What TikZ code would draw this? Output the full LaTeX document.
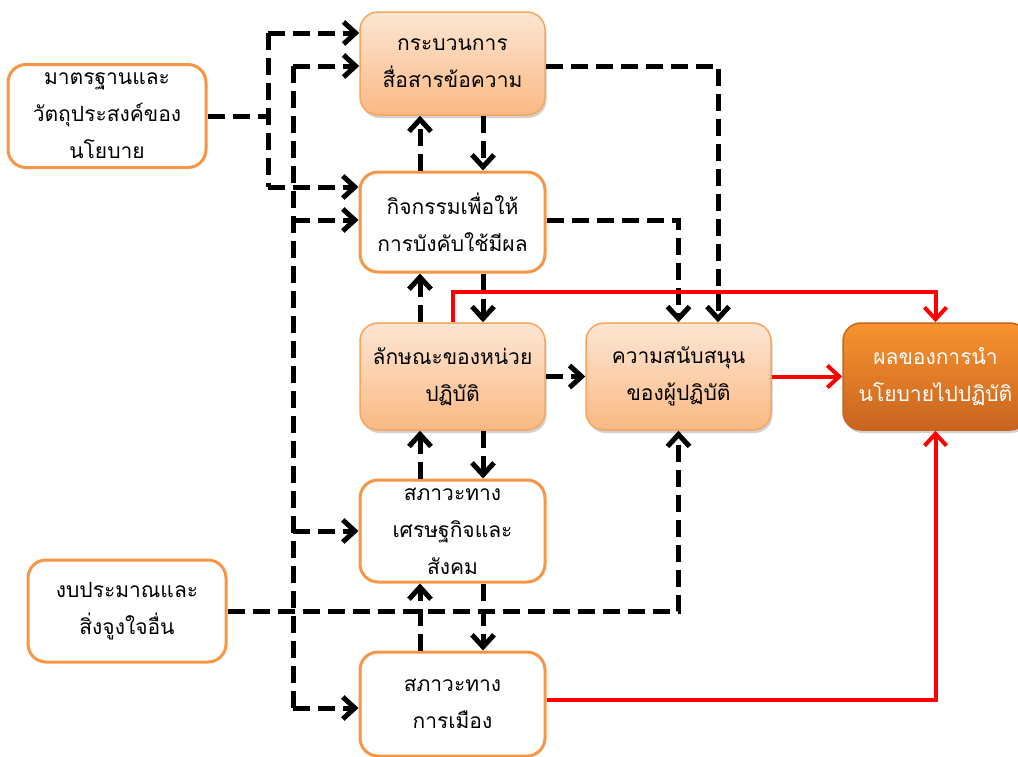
\documentclass[tikz,border=0pt]{standalone}
\usepackage{fontspec}
\newfontfamily\thaifont[Script=Thai]{Loma}
\usetikzlibrary{arrows.meta,shadows}
\definecolor{boxorange}{HTML}{F79646}
\definecolor{peachtop}{HTML}{FDE6D3}
\definecolor{peachbot}{HTML}{FAB983}
\definecolor{peachborder}{HTML}{F8A560}
\definecolor{darktop}{HTML}{F8932F}
\definecolor{darkbot}{HTML}{C8641F}
\definecolor{linkred}{HTML}{FF0000}
\tikzset{
  basebox/.style={rounded corners=18pt, minimum width=185pt, minimum height=103pt,
    inner sep=0pt, align=center, font=\thaifont\fontsize{21}{37}\selectfont},
  whitebox/.style={basebox, draw=boxorange, line width=3pt, fill=white},
  peachbox/.style={basebox, draw=peachborder, line width=1.5pt, top color=peachtop, bottom color=peachbot,
    drop shadow={opacity=0.35, shadow xshift=1.5pt, shadow yshift=-3pt}},
  darkbox/.style={basebox, draw=darkbot, line width=1.5pt, top color=darktop, bottom color=darkbot, text=white,
    drop shadow={opacity=0.35, shadow xshift=1.5pt, shadow yshift=-3pt}},
  dsh/.style={draw=black, line width=5pt, dash pattern=on 17pt off 8pt},
  redlink/.style={draw=linkred, line width=4pt},
  arr/.style={-{Straight Barb[length=12pt,width=22pt]}},
}
\begin{document}
\begin{tikzpicture}[x=1pt,y=-1pt]
\useasboundingbox (0,0) rectangle (1018,756);
\clip (0,0) rectangle (1018,756);
\fill[white] (0,0) rectangle (1018,756);

% nodes
\node[whitebox, minimum width=198pt] (A) at (107,116) {มาตรฐานและ\\วัตถุประสงค์ของ\\นโยบาย};
\node[peachbox] (B) at (452.5,63.5) {กระบวนการ\\สื่อสารข้อความ};
\node[whitebox, minimum height=100pt] (C) at (452.5,222) {กิจกรรมเพื่อให้\\การบังคับใช้มีผล};
\node[peachbox, minimum height=107pt] (D) at (452.5,376.5) {ลักษณะของหน่วย\\ปฏิบัติ};
\node[peachbox, minimum height=107pt] (E) at (678.5,376.5) {ความสนับสนุน\\ของผู้ปฏิบัติ};
\node[darkbox, minimum height=107pt] (F) at (935.5,376.5) {ผลของการนำ\\นโยบายไปปฏิบัติ};
\node[whitebox, minimum height=102pt] (G) at (452.5,531) {สภาวะทาง\\เศรษฐกิจและ\\สังคม};
\node[whitebox, minimum height=104pt] (H) at (452.5,704) {สภาวะทาง\\การเมือง};
\node[whitebox, minimum width=198pt, minimum height=102pt] (I) at (127,611) {งบประมาณและ\\สิ่งจูงใจอื่น};

% entry points
\coordinate (Bin1) at ([yshift=30.5pt]B.west);
\coordinate (Bin2) at ([yshift=-2.5pt]B.west);
\coordinate (Cin1) at ([yshift=35pt]C.west);
\coordinate (Cin2) at ([yshift=2pt]C.west);
\coordinate (Gin) at (G.west);
\coordinate (Hin) at ([yshift=-4pt]H.west);
\coordinate (j1) at (268,116);
\coordinate (j2) at (293,611);

% standards bus
\draw[dsh] (A.east) -- (j1);
\draw[dsh] (Bin1 -| j1) -- (Cin1 -| j1);
\draw[dsh,arr] (Bin1 -| j1) -- (Bin1);
\draw[dsh,arr] (Cin1 -| j1) -- (Cin1);

% resources bus
\draw[dsh,arr] (I.east) -| (E.south);
\draw[dsh] (Bin2 -| j2) -- (Hin -| j2);
\draw[dsh,arr] (Bin2 -| j2) -- (Bin2);
\draw[dsh,arr] (Cin2 -| j2) -- (Cin2);
\draw[dsh,arr] (Gin -| j2) -- (Gin);
\draw[dsh,arr] (Hin -| j2) -- (Hin);

% vertical pairs
\foreach \u/\l in {B/C, C/D, D/G, G/H}{
  \draw[dsh,arr] ([xshift=30.5pt]\u.south) -- ([xshift=30.5pt]\l.north);
  \draw[dsh,arr] ([xshift=-32.5pt]\l.north) -- ([xshift=-32.5pt]\u.south);
}

% to support
\draw[dsh,arr] (D.east) -- (E.west);
\draw[dsh,arr] ([yshift=-2.5pt]B.east) -| ([xshift=39.5pt]E.north);
\draw[dsh,arr] ([yshift=2pt]C.east) -| (E.north);

% red links
\coordinate (rtop) at (452.5,292);
\draw[redlink,arr] (D.north) -- (D.north |- rtop) -| (F.north);
\draw[redlink,arr] (E.east) -- (F.west);
\draw[redlink,arr] ([yshift=4pt]H.east) -| (F.south);
\end{tikzpicture}
\end{document}
